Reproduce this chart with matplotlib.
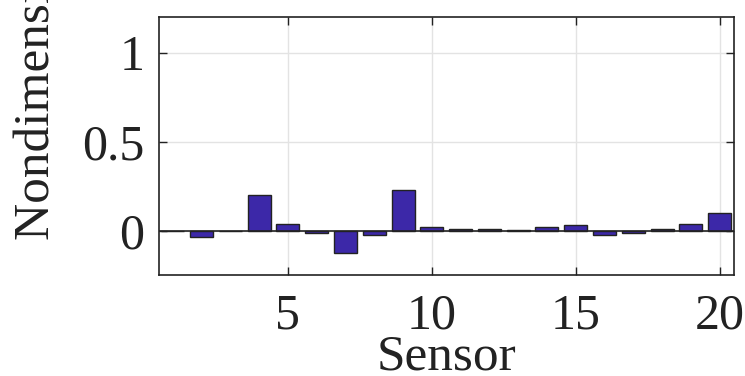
import numpy as np
import matplotlib
matplotlib.use('Agg')
import matplotlib.pyplot as plt

# dane
sensory = np.arange(1, 21)
wartosci = [-0.002, -0.039, -0.003, 0.202, 0.038, -0.015, -0.129, -0.028, 0.229, 0.022,
            0.008, 0.007, 0.002, 0.019, 0.030, -0.028, -0.015, 0.008, 0.034, 0.099]
x_ticki = [5, 10, 15, 20]
y_ticki = [0, 0.5, 1]
y_etykiety = ['0', '0.5', '1']

plt.rcParams['font.family'] = ['Liberation Serif', 'DejaVu Serif']

fig = plt.figure(figsize=(7.45, 3.76), dpi=100)
ax = fig.add_axes([158.5 / 745, 1 - 275 / 376, (734 - 158.5) / 745, (275 - 17) / 376])

ax.bar(sensory, wartosci, width=0.8, color='#3C28A8', edgecolor='#222222', linewidth=1.0, zorder=3)
ax.axhline(0, color='#222222', linewidth=1.2, zorder=4)

ax.set_xlim(0.5, 20.5)
ax.set_ylim(-0.25, 1.2)
ax.set_xticks(x_ticki)
ax.set_yticks(y_ticki)
ax.set_yticklabels(y_etykiety)

ax.grid(True, color='#e3e3e3', linewidth=1.0, zorder=0)
ax.tick_params(direction='in', length=6, width=1.0, top=True, right=True,
               labelsize=36, colors='#222222')
ax.tick_params(axis='x', pad=13)
ax.tick_params(axis='y', pad=10)
for s in ax.spines.values():
    s.set_linewidth(1.2)
    s.set_color('#222222')

ax.set_xlabel('Sensor', fontsize=37, color='#222222', labelpad=-4)
ax.set_ylabel('Nondimensional amplitude', fontsize=37, color='#222222', loc='bottom')
ax.yaxis.set_label_coords(-0.171, 0.136)

fig.savefig('out.png', dpi=100)
